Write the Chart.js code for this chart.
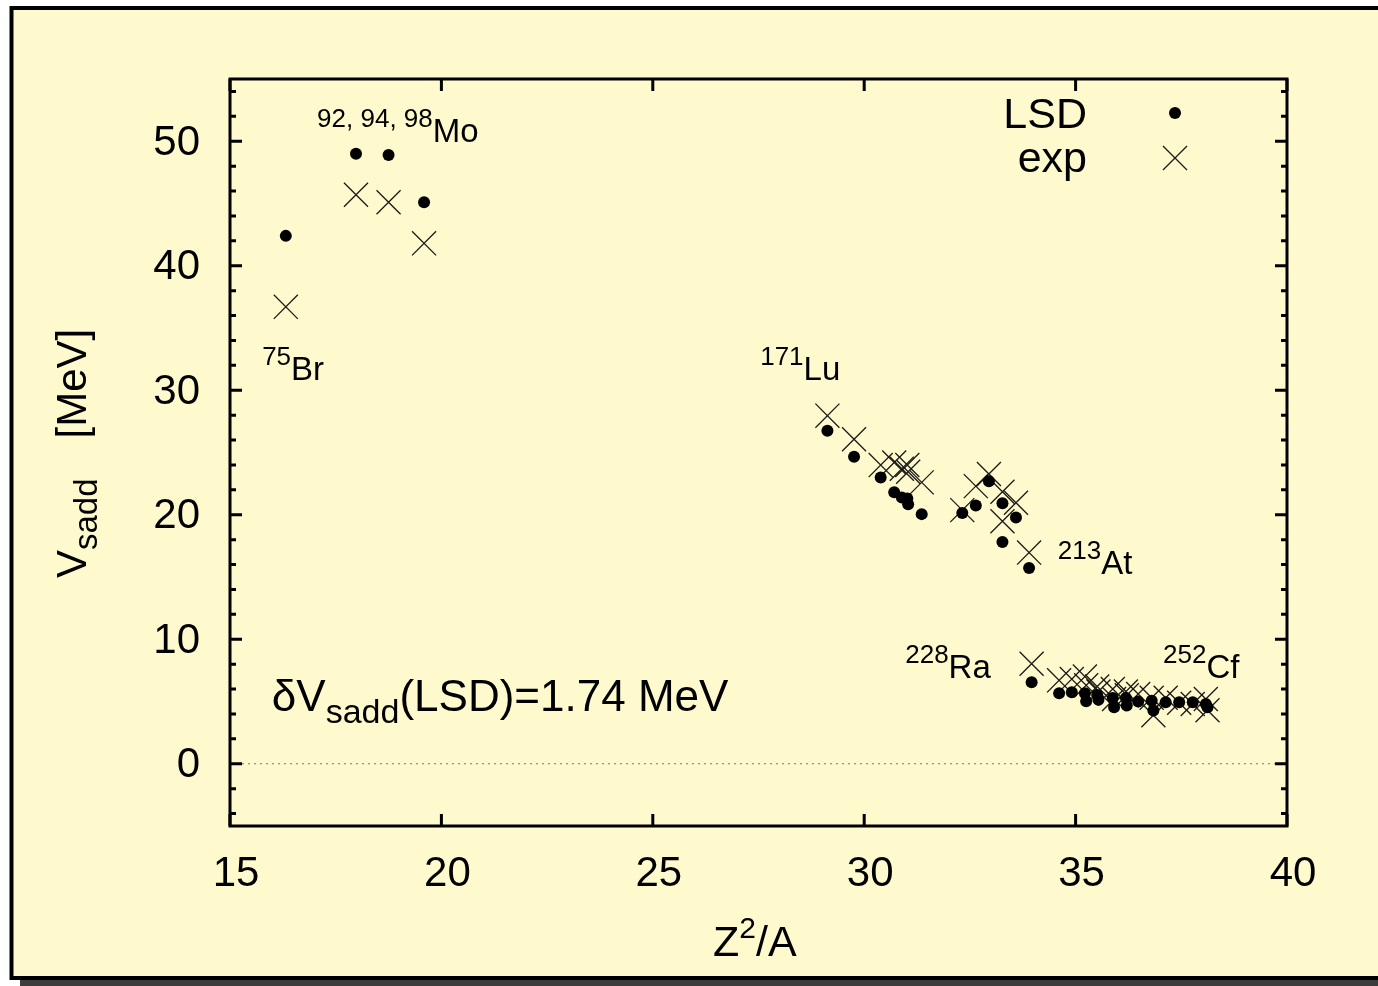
<!DOCTYPE html>
<html>
<head>
<meta charset="utf-8">
<script src="https://cdn.jsdelivr.net/npm/chart.js@4/dist/chart.umd.min.js"></script>
<style>
  html, body { margin: 0; padding: 0; background: #fff; }
  #wrap { width: 1378px; height: 986px; }
</style>
</head>
<body>
<div id="wrap"><canvas id="saddleChart"></canvas></div>
<script>
// Z^2/A of each nucleus, same abscissa for both series
const zSqOverA = [
  16.32, 17.98, 18.75, 19.59,
  29.13, 29.76, 30.39, 30.71, 30.89, 31.02, 31.04, 31.36,
  32.32, 32.64, 32.95, 33.27, 33.27, 33.59, 33.90,
  33.96, 34.61, 34.91, 35.22, 35.25, 35.51, 35.54, 35.88, 35.91,
  36.19, 36.21, 36.48, 36.80, 36.84, 37.13, 37.45, 37.77, 38.08, 38.12,
];
// saddle point heights [MeV]
const vSaddLsd = [
  42.4, 49.0, 48.9, 45.1,
  26.75, 24.66, 23.0, 21.8, 21.39, 21.31, 20.85, 20.05,
  20.15, 20.75, 22.7, 20.93, 17.82, 19.78, 15.73,
  6.55, 5.66, 5.74, 5.66, 5.02, 5.53, 5.13, 5.29, 4.53,
  5.29, 4.67, 4.99, 5.07, 4.27, 4.94, 4.94, 4.94, 4.80, 4.53,
];
const vSaddExp = [
  36.7, 45.7, 45.1, 41.8,
  27.96, 26.06, 23.99, 24.2, 23.7, 24.0, 23.45, 22.6,
  20.37, 22.3, 23.27, 21.85, 19.48, 20.96, 16.96,
  8.03, 6.7, 6.8, 7.0, 6.3, 6.2, 5.8, 6.0, 5.2,
  5.8, 5.5, 5.6, 5.3, 3.9, 5.3, 4.9, 4.8, 5.2, 4.3,
];
const xTicks = [15, 20, 25, 30, 35, 40];
const yTicks = [0, 10, 20, 30, 40, 50];
const seriesNames = ["LSD", "exp"];

const FONT = '"Liberation Sans", Arial, Helvetica, sans-serif';

// text with sub/superscripts: parts = [{t, size, dy}]
function drawRich(ctx, x, y, parts) {
  parts.forEach(p => {
    if (p.gap) { x += p.gap; return; }
    ctx.font = p.size + "px " + FONT;
    ctx.fillText(p.t, x, y + (p.dy || 0));
    x += ctx.measureText(p.t).width;
  });
}

// labels anchored in data units (left end, baseline)
const notes = [
  { x: 15.76, y: 30.84, parts: [{ t: "75", size: 26, dy: -15 }, { t: "Br", size: 33 }] },
  { x: 17.06, y: 49.92, parts: [{ t: "92, 94, 98", size: 26, dy: -15 }, { t: "Mo", size: 33 }] },
  { x: 27.54, y: 30.84, parts: [{ t: "171", size: 26, dy: -15 }, { t: "Lu", size: 33 }] },
  { x: 34.58, y: 15.25, parts: [{ t: "213", size: 26, dy: -15 }, { t: "At", size: 33 }] },
  { x: 30.97, y: 6.92, parts: [{ t: "228", size: 26, dy: -15 }, { t: "Ra", size: 33 }] },
  { x: 37.07, y: 6.92, parts: [{ t: "252", size: 26, dy: -15 }, { t: "Cf", size: 33 }] },
  { x: 15.99, y: 4.27, parts: [{ t: "\u03b4V", size: 44 }, { t: "sadd", size: 34, dy: 12 }, { t: "(LSD)=1.74 MeV", size: 44 }] },
];

const pageFrame = {
  id: "pageFrame",
  beforeDraw(chart) {
    const { ctx, width, height } = chart;
    ctx.save();
    ctx.fillStyle = "#fff";
    ctx.fillRect(0, 0, width, height);
    ctx.fillStyle = "#3c3c3c";
    ctx.fillRect(20, 980, width, 6);
    ctx.fillStyle = "#fffacd";
    ctx.fillRect(11, 8, width, 970);
    ctx.strokeStyle = "#000";
    ctx.lineWidth = 4;
    ctx.strokeRect(11.5, 8, width + 20, 970);
    ctx.restore();
  },
};

const plotDecor = {
  id: "plotDecor",
  afterDraw(chart) {
    const { ctx, chartArea: a } = chart;
    const xs = chart.scales.x, ys = chart.scales.y;
    ctx.save();
    ctx.strokeStyle = "#000";
    ctx.lineWidth = 3;
    ctx.lineCap = "butt";
    ctx.strokeRect(a.left, a.top, a.right - a.left, a.bottom - a.top);

    // ticks on all four sides, pointing inward
    ctx.beginPath();
    for (let v = -4; v <= 54; v += 2) {
      const py = ys.getPixelForValue(v);
      const len = yTicks.includes(v) ? 12 : 6;
      ctx.moveTo(a.left, py); ctx.lineTo(a.left + len, py);
      ctx.moveTo(a.right, py); ctx.lineTo(a.right - len, py);
    }
    xTicks.forEach(v => {
      const px = xs.getPixelForValue(v);
      ctx.moveTo(px, a.bottom); ctx.lineTo(px, a.bottom - 12);
      ctx.moveTo(px, a.top); ctx.lineTo(px, a.top + 12);
    });
    ctx.stroke();

    ctx.fillStyle = "#000";
    ctx.textAlign = "left";
    ctx.textBaseline = "alphabetic";
    notes.forEach(n => {
      drawRich(ctx, xs.getPixelForValue(n.x), ys.getPixelForValue(n.y), n.parts);
    });

    // key
    const ds = chart.data.datasets;
    ctx.font = "43px " + FONT;
    ctx.textAlign = "right";
    ctx.fillText(seriesNames[0], a.right - 200, a.top + 49);
    ctx.fillText(seriesNames[1], a.right - 200, a.top + 93);
    ctx.fillStyle = ds[0].backgroundColor;
    Chart.helpers.drawPoint(ctx, { pointStyle: "circle", radius: 6, borderWidth: 0 }, a.right - 112, a.top + 34);
    ctx.strokeStyle = ds[1].borderColor;
    ctx.lineWidth = ds[1].borderWidth;
    Chart.helpers.drawPoint(ctx, { pointStyle: "crossRot", radius: 17, borderWidth: ds[1].borderWidth }, a.right - 112, a.top + 79);

    // axis titles
    ctx.fillStyle = "#000";
    ctx.textAlign = "left";
    drawRich(ctx, 713, 956, [{ t: "Z", size: 43 }, { t: "2", size: 30, dy: -18 }, { t: "/A", size: 43 }]);
    ctx.translate(86, 578);
    ctx.rotate(-Math.PI / 2);
    drawRich(ctx, 0, 0, [{ t: "V", size: 42 }, { t: "sadd", size: 33, dy: 11 }, { gap: 40 }, { t: "[MeV]", size: 42 }]);
    ctx.restore();
  },
};

new Chart(document.getElementById("saddleChart").getContext("2d"), {
  type: "scatter",
  data: {
    datasets: [
      {
        label: seriesNames[0],
        data: zSqOverA.map((x, i) => ({ x, y: vSaddLsd[i] })),
        pointStyle: "circle",
        pointRadius: 6,
        backgroundColor: "#000",
        borderWidth: 0,
      },
      {
        label: seriesNames[1],
        data: zSqOverA.map((x, i) => ({ x, y: vSaddExp[i] })),
        pointStyle: "crossRot",
        pointRadius: 17,
        borderColor: "#1a1a1a",
        borderWidth: 1.3,
      },
      {
        // zero level
        type: "line",
        data: [{ x: 15, y: 0 }, { x: 40, y: 0 }],
        borderColor: "#777",
        borderWidth: 1.2,
        borderDash: [2, 4],
        pointRadius: 0,
      },
    ],
  },
  options: {
    responsive: true,
    maintainAspectRatio: false,
    animation: false,
    layout: { padding: { left: 0, top: 79, right: 91, bottom: 0 } },
    plugins: { legend: { display: false }, tooltip: { enabled: false } },
    scales: {
      x: {
        type: "linear",
        min: 15,
        max: 40,
        afterBuildTicks: s => { s.ticks = xTicks.map(v => ({ value: v })); },
        afterFit: s => { s.height = 160; },
        grid: { display: false, drawTicks: false },
        border: { display: false },
        ticks: { color: "#000", font: { family: FONT, size: 42 }, padding: 23, labelOffset: 6 },
      },
      y: {
        type: "linear",
        min: -5,
        max: 55,
        afterBuildTicks: s => { s.ticks = yTicks.map(v => ({ value: v })); },
        afterFit: s => { s.width = 230; },
        grid: { display: false, drawTicks: false },
        border: { display: false },
        ticks: { color: "#000", font: { family: FONT, size: 42 }, padding: 30, labelOffset: 2 },
      },
    },
  },
  plugins: [pageFrame, plotDecor],
});
</script>
</body>
</html>
